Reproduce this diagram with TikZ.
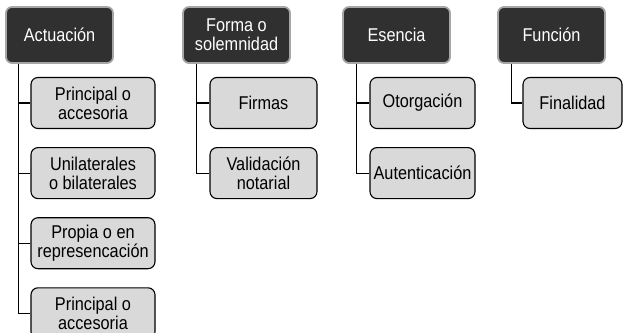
\documentclass[tikz,border=0pt]{standalone}
\usepackage{fontspec}
\setmainfont{Liberation Sans}[FakeStretch=0.88]
\usepackage{tikz}
\usetikzlibrary{positioning,calc}
\definecolor{boxdark}{HTML}{303030}
\definecolor{boxedge}{HTML}{A6A6A6}
\definecolor{boxlight}{HTML}{D9D9D9}
\tikzstyle{hd}=[rectangle,rounded corners=6pt,line width=1.8pt,draw=boxedge,fill=boxdark,text=white,minimum width=107pt,minimum height=56pt,inner sep=0pt,align=center]
\tikzstyle{sb}=[rectangle,rounded corners=7pt,line width=1.1pt,draw=black,fill=boxlight,minimum height=51pt,inner sep=0pt,align=center]
\tikzset{
	lnk/.style={line width=1.2pt,draw=black}
}

\begin{document}
\begin{tikzpicture}[x=1pt,y=-1pt,font=\fontsize{18.5}{19}\selectfont]
	\useasboundingbox (0,0) rectangle (623,332);
	% cabeceras
	\node (act) [hd] at (59.5,35) {Actuación};
	\node (frm) [hd] at (236.5,35) {Forma o\\solemnidad};
	\node (esn) [hd] at (396.5,35) {Esencia};
	\node (fun) [hd] at (551.5,35) {Función};
	% subcajas
	\node (a1) [sb,minimum width=124pt] at (93,103) {Principal o\\accesoria};
	\node (a2) [sb,minimum width=124pt,below=18pt of a1] {Unilaterales\\o bilaterales};
	\node (a3) [sb,minimum width=124pt,below=18pt of a2] {Propia o en\\represencación};
	\node (a4) [sb,minimum width=124pt,below=18pt of a3] {Principal o\\accesoria};
	\node (f1) [sb,minimum width=107pt] at (263.5,103) {Firmas};
	\node (f2) [sb,minimum width=107pt,below=18pt of f1] {Validación\\notarial};
	\node (e1) [sb,minimum width=105pt] at (422.5,103) {Otorgación};
	\node (e2) [sb,minimum width=105pt,below=18pt of e1] {Autenticación};
	\node (u1) [sb,minimum width=99pt] at (572.5,103) {Finalidad};
	% conectores
	\coordinate (ta) at ([xshift=13pt]act.south west);
	\coordinate (tf) at ([xshift=14pt]frm.south west);
	\coordinate (te) at ([xshift=14pt]esn.south west);
	\coordinate (tu) at ([xshift=14pt]fun.south west);
	\draw[lnk] (ta) |- (a4.west);
	\foreach \c in {a1,a2,a3} \draw[lnk] (\c.west) -- (\c.west -| ta);
	\draw[lnk] (tf) |- (f2.west);
	\draw[lnk] (f1.west) -- (f1.west -| tf);
	\draw[lnk] (te) |- (e2.west);
	\draw[lnk] (e1.west) -- (e1.west -| te);
	\draw[lnk] (tu) |- (u1.west);
\end{tikzpicture}
\end{document}
